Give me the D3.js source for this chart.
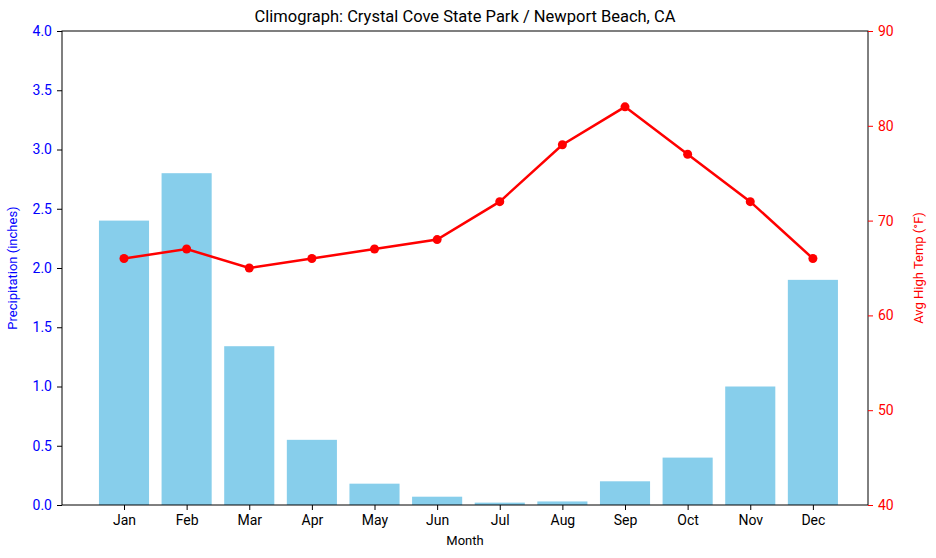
<!DOCTYPE html>
<html>
<head>
<meta charset="utf-8">
<script src="https://cdn.jsdelivr.net/npm/d3@7"></script>
<style>
  body { margin: 0; background: #fff; font-family: Roboto, "DejaVu Sans", sans-serif; }
</style>
</head>
<body>
<div id="chart"></div>
<script>
const months = ["Jan", "Feb", "Mar", "Apr", "May", "Jun", "Jul", "Aug", "Sep", "Oct", "Nov", "Dec"];
const precipitation = [2.4, 2.8, 1.34, 0.55, 0.18, 0.07, 0.02, 0.03, 0.2, 0.4, 1.0, 1.9];
const highTemp = [66, 67, 65, 66, 67, 68, 72, 78, 82, 77, 72, 66];
const precipTicks = [0, 0.5, 1.0, 1.5, 2.0, 2.5, 3.0, 3.5, 4.0];
const tempTicks = [40, 50, 60, 70, 80, 90];

const margin = { top: 31, right: 68, bottom: 53, left: 62 };
const width = 936 - margin.left - margin.right;
const height = 558 - margin.top - margin.bottom;

const svg = d3.select("#chart").append("svg")
    .attr("width", 936).attr("height", 558)
    .append("g")
    .attr("transform", `translate(${margin.left},${margin.top})`);

// index-based x so bars sit like the reference (0.8 wide, small margins)
const x = d3.scaleLinear().domain([-0.99, 11.88]).range([0, width]);
const barW = x(0.8) - x(0);
const yL = d3.scaleLinear().domain([0, 4]).range([height, 0]);
const yR = d3.scaleLinear().domain([40, 90]).range([height, 0]);

svg.selectAll("rect.bar")
    .data(precipitation)
    .enter().append("rect")
    .attr("class", "bar")
    .attr("x", (d, i) => x(i) - barW / 2)
    .attr("width", barW)
    .attr("y", d => yL(d))
    .attr("height", d => yL(0) - yL(d))
    .attr("fill", "#87ceeb");

const line = d3.line().x((d, i) => x(i)).y(d => yR(d));
svg.append("path").datum(highTemp)
    .attr("fill", "none").attr("stroke", "red").attr("stroke-width", 2.5)
    .attr("d", line);
svg.selectAll("circle.pt")
    .data(highTemp)
    .enter().append("circle")
    .attr("cx", (d, i) => x(i)).attr("cy", d => yR(d))
    .attr("r", 4.5).attr("fill", "red");

// frame
svg.append("rect").attr("width", width).attr("height", height)
    .attr("fill", "none").attr("stroke", "#000").attr("stroke-width", 1);

const xAxis = svg.append("g").attr("transform", `translate(0,${height})`)
    .call(d3.axisBottom(x).tickValues(d3.range(12)).tickFormat(i => months[i]).tickSize(5).tickPadding(5));
const leftAxis = svg.append("g")
    .call(d3.axisLeft(yL).tickValues(precipTicks).tickFormat(d3.format(".1f")).tickSize(5).tickPadding(5));
const rightAxis = svg.append("g").attr("transform", `translate(${width},0)`)
    .call(d3.axisRight(yR).tickValues(tempTicks).tickSize(5).tickPadding(5));

[xAxis, leftAxis, rightAxis].forEach(a => {
    a.select(".domain").remove();
    a.selectAll("text").style("font-size", "14px").style("font-family", "Roboto, sans-serif");
});
xAxis.selectAll("text").attr("fill", "#000");
leftAxis.selectAll("text").attr("fill", "blue");
leftAxis.selectAll("line").attr("stroke", "#000");
rightAxis.selectAll("text").attr("fill", "red");
rightAxis.selectAll("line").attr("stroke", "red");

svg.append("text").attr("x", width / 2).attr("y", -9)
    .attr("text-anchor", "middle").style("font-size", "16.5px").text("Climograph: Crystal Cove State Park / Newport Beach, CA");
svg.append("text").attr("x", width / 2).attr("y", height + 40)
    .attr("text-anchor", "middle").style("font-size", "13px").text("Month");
svg.append("text").attr("transform", "rotate(-90)").attr("x", -height / 2).attr("y", -45)
    .attr("text-anchor", "middle").attr("fill", "blue").style("font-size", "13px").text("Precipitation (inches)");
svg.append("text").attr("transform", "rotate(-90)").attr("x", -height / 2).attr("y", width + 55)
    .attr("text-anchor", "middle").attr("fill", "red").style("font-size", "13px").text("Avg High Temp (°F)");
</script>
</body>
</html>
